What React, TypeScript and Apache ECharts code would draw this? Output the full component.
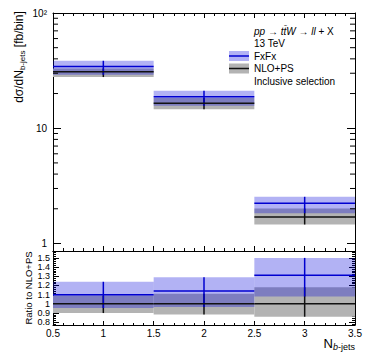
import React, { useEffect, useRef } from 'react';
import * as echarts from 'echarts';

// ---- data ----
const binEdges = [0.5, 1.5, 2.5, 3.5];
const binCenters = [1, 2, 3];
const xTickLabels = ['0.5', '1', '1.5', '2', '2.5', '3', '3.5'];

const fxfxCentral = [34.3, 18.8, 2.23];
const fxfxUp = [38.5, 21.1, 2.54];
const fxfxDown = [29.1, 15.7, 1.83];
const nloCentral = [30.9, 16.5, 1.7];
const nloUp = [33.0, 18.3, 2.01];
const nloDown = [27.8, 14.6, 1.46];

const ratioFxfx = [1.1, 1.14, 1.31];
const ratioFxfxUp = [1.24, 1.29, 1.5];
const ratioFxfxDown = [0.955, 0.965, 1.08];
const ratioNlo = [1.0, 1.0, 1.0];
const ratioNloUp = [1.09, 1.11, 1.18];
const ratioNloDown = [0.9, 0.885, 0.86];

const yTickLabels = ['1', '10', '10²'];
const logMinorTicks = [2, 3, 4, 5, 6, 7, 8, 9, 20, 30, 40, 50, 60, 70, 80, 90];

const FONT = '"Liberation Sans", Arial, Helvetica, sans-serif';
const BLUE = '#0000d0';
const BLACK = '#111111';
const BLUE_FILL = 'rgba(0,0,220,0.3)';
const GRAY_FILL = '#b3b3b3';

const L = 53, R = 355, T0 = 13, B0 = 251, B1 = 325;

function bandSeries(xi: number, yi: number, lows: number[], highs: number[], fill: string, z: number) {
  return {
    type: 'custom', xAxisIndex: xi, yAxisIndex: yi, z,
    data: lows.map((lo, i) => [binEdges[i], binEdges[i + 1], lo, highs[i]]),
    encode: { x: [0, 1], y: [2, 3] },
    renderItem: (params: any, api: any) => {
      const p0 = api.coord([api.value(0), api.value(3)]);
      const p1 = api.coord([api.value(1), api.value(2)]);
      return { type: 'rect', shape: { x: p0[0], y: p0[1], width: p1[0] - p0[0], height: p1[1] - p0[1] }, style: { fill } };
    },
  };
}

function hLineSeries(xi: number, yi: number, vals: number[], stroke: string, z: number) {
  return {
    type: 'custom', xAxisIndex: xi, yAxisIndex: yi, z,
    data: vals.map((v, i) => [binEdges[i], binEdges[i + 1], v]),
    encode: { x: [0, 1], y: 2 },
    renderItem: (params: any, api: any) => {
      const p0 = api.coord([api.value(0), api.value(2)]);
      const p1 = api.coord([api.value(1), api.value(2)]);
      return { type: 'line', shape: { x1: p0[0], y1: p0[1], x2: p1[0], y2: p1[1] }, style: { stroke, lineWidth: 1.5 } };
    },
  };
}

function vLineSeries(xi: number, yi: number, lows: number[], highs: number[], stroke: string, z: number) {
  return {
    type: 'custom', xAxisIndex: xi, yAxisIndex: yi, z,
    data: lows.map((lo, i) => [binCenters[i], lo, highs[i]]),
    encode: { x: 0, y: [1, 2] },
    renderItem: (params: any, api: any) => {
      const p0 = api.coord([api.value(0), api.value(1)]);
      const p1 = api.coord([api.value(0), api.value(2)]);
      return { type: 'line', shape: { x1: p0[0], y1: p0[1], x2: p1[0], y2: p1[1] }, style: { stroke, lineWidth: 1.5 } };
    },
  };
}

const axisLine = { show: true, onZero: false, lineStyle: { color: '#000', width: 1 } };

export default function App() {
  const ref = useRef<HTMLDivElement>(null);
  useEffect(() => {
    if (!ref.current) return;
    const chart = echarts.init(ref.current, null, { renderer: 'svg' });
    const xCommon = {
      type: 'value', min: 0.5, max: 3.5, interval: 0.5,
      axisLine, splitLine: { show: false },
      axisTick: { show: true, inside: true, length: 5, lineStyle: { color: '#000' } },
      minorTick: { show: true, inside: true, splitNumber: 5, length: 3, lineStyle: { color: '#000' } },
      axisLabel: { show: false },
    };
    const option: any = {
      animation: false,
      grid: [
        { left: L, width: R - L, top: T0, height: B0 - T0, outerBoundsMode: 'none' },
        { left: L, width: R - L, top: B0, height: B1 - B0, outerBoundsMode: 'none' },
      ],
      xAxis: [
        { ...xCommon, gridIndex: 0, position: 'bottom' },
        { ...xCommon, gridIndex: 0, position: 'top' },
        {
          ...xCommon, gridIndex: 1, position: 'bottom',
          axisTick: { show: true, inside: true, length: 4, lineStyle: { color: '#000' } },
          minorTick: { show: true, inside: true, splitNumber: 5, length: 2, lineStyle: { color: '#000' } },
          axisLabel: {
            show: true, margin: 3, fontSize: 10, fontFamily: FONT, color: '#000',
            formatter: (v: number) => xTickLabels[Math.round((v - 0.5) * 2)] ?? '',
          },
        },
        { ...xCommon, gridIndex: 1, position: 'top', axisTick: { show: false }, minorTick: { show: false } },
      ],
      yAxis: [
        {
          gridIndex: 0, type: 'log', logBase: 10, min: 0.86, max: 100, position: 'left',
          axisLine, splitLine: { show: false },
          axisTick: { show: true, inside: true, length: 8, lineStyle: { color: '#000' } },
          axisLabel: {
            show: true, margin: 6, fontSize: 10, fontFamily: FONT, color: '#000', showMinLabel: true, showMaxLabel: true,
            formatter: (v: number) => {
              const lg = Math.log10(v);
              if (Math.abs(lg - Math.round(lg)) > 1e-6) return '';
              return yTickLabels[Math.round(lg)] ?? '';
            },
          },
        },
        {
          gridIndex: 0, type: 'log', logBase: 10, min: 0.86, max: 100, position: 'right',
          axisLine, splitLine: { show: false },
          axisTick: { show: true, inside: true, length: 8, lineStyle: { color: '#000' } },
          axisLabel: { show: false },
        },
        {
          gridIndex: 1, type: 'value', min: 0.77, max: 1.575, splitNumber: 8, position: 'left',
          axisLine, splitLine: { show: false },
          axisTick: { show: true, inside: true, length: 6, lineStyle: { color: '#000' } },
          minorTick: { show: true, splitNumber: 5, length: 3, lineStyle: { color: '#000' } },
          axisLabel: {
            show: true, margin: 3, fontSize: 9, lineHeight: 9, fontFamily: FONT, color: '#000',
            showMinLabel: true, showMaxLabel: true, hideOverlap: false,
            formatter: (v: number) => {
              const r = Math.round(v * 10) / 10;
              if (Math.abs(v - r) > 1e-6) return '';
              return String(r);
            },
          },
        },
        {
          gridIndex: 1, type: 'value', min: 0.77, max: 1.575, splitNumber: 8, position: 'right',
          axisLine, splitLine: { show: false },
          axisTick: { show: true, inside: true, length: 6, lineStyle: { color: '#000' } },
          minorTick: { show: true, splitNumber: 5, length: 3, lineStyle: { color: '#000' } },
          axisLabel: { show: false },
        },
      ],
      series: [
        // top panel
        bandSeries(0, 0, nloDown, nloUp, GRAY_FILL, 1),
        bandSeries(0, 0, fxfxDown, fxfxUp, BLUE_FILL, 2),
        vLineSeries(0, 0, nloDown, nloUp, BLACK, 3),
        vLineSeries(0, 0, fxfxDown, fxfxUp, BLUE, 4),
        hLineSeries(0, 0, nloCentral, BLACK, 5),
        hLineSeries(0, 0, fxfxCentral, BLUE, 6),
        {
          type: 'custom', xAxisIndex: 0, yAxisIndex: 0, z: 7,
          data: logMinorTicks.map((v) => [0.5, v]),
          encode: { x: 0, y: 1 },
          renderItem: (params: any, api: any) => {
            const pl = api.coord([0.5, api.value(1)]);
            const pr = api.coord([3.5, api.value(1)]);
            return {
              type: 'group', children: [
                { type: 'line', shape: { x1: pl[0], y1: pl[1], x2: pl[0] + 5, y2: pl[1] }, style: { stroke: '#000', lineWidth: 1 } },
                { type: 'line', shape: { x1: pr[0] - 5, y1: pr[1], x2: pr[0], y2: pr[1] }, style: { stroke: '#000', lineWidth: 1 } },
              ],
            };
          },
        },
        // ratio panel
        bandSeries(2, 2, ratioNloDown, ratioNloUp, GRAY_FILL, 1),
        bandSeries(2, 2, ratioFxfxDown, ratioFxfxUp, BLUE_FILL, 2),
        vLineSeries(2, 2, ratioNloDown, ratioNloUp, BLACK, 3),
        vLineSeries(2, 2, ratioFxfxDown, ratioFxfxUp, BLUE, 4),
        hLineSeries(2, 2, ratioNlo, BLACK, 5),
        hLineSeries(2, 2, ratioFxfx, BLUE, 6),
      ],
      graphic: [
        {
          type: 'text', x: 19, y: 57, rotation: Math.PI / 2,
          style: {
            text: '{m|dσ/dN}{s|b-jets}{m| [fb/bin]}', align: 'center', verticalAlign: 'middle',
            rich: {
              m: { fontSize: 12, fontFamily: FONT, fill: '#000', lineHeight: 14, verticalAlign: 'middle' },
              s: { fontSize: 8, fontFamily: FONT, fill: '#000', lineHeight: 14, verticalAlign: 'bottom', padding: [5, 0, 0, 0] },
            },
          },
        },
        {
          type: 'text', x: 28, y: 288, rotation: Math.PI / 2,
          style: { text: 'Ratio to NLO+PS', align: 'center', verticalAlign: 'middle', fontSize: 9.5, fontFamily: FONT, fill: '#000' },
        },
        {
          type: 'text', x: 355, y: 343,
          style: {
            text: '{m|N}{si|b}{s|-jets}', align: 'right', verticalAlign: 'middle',
            rich: {
              m: { fontSize: 13, fontFamily: FONT, fill: '#000', lineHeight: 16 },
              si: { fontSize: 9, fontFamily: FONT, fontStyle: 'italic', fill: '#000', lineHeight: 16, verticalAlign: 'bottom', padding: [5, 0, 0, 0] },
              s: { fontSize: 9, fontFamily: FONT, fill: '#000', lineHeight: 16, verticalAlign: 'bottom', padding: [5, 0, 0, 0] },
            },
          },
        },
        {
          type: 'text', x: 254, y: 31,
          style: {
            text: '{i|pp} → {i|tt\u0304W} → {i|ll} + X', verticalAlign: 'middle',
            fontSize: 10, fontFamily: FONT, fill: '#000',
            rich: { i: { fontSize: 10, fontFamily: FONT, fontStyle: 'italic', fill: '#000' } },
          },
        },
        { type: 'text', x: 254, y: 43, style: { text: '13 TeV', verticalAlign: 'middle', fontSize: 10, fontFamily: FONT, fill: '#000' } },
        { type: 'rect', shape: { x: 229, y: 51, width: 20, height: 10 }, style: { fill: BLUE_FILL } },
        { type: 'line', shape: { x1: 229, y1: 56, x2: 249, y2: 56 }, style: { stroke: BLUE, lineWidth: 1.5 } },
        { type: 'text', x: 254, y: 56, style: { text: 'FxFx', verticalAlign: 'middle', fontSize: 10, fontFamily: FONT, fill: '#000' } },
        { type: 'rect', shape: { x: 229, y: 63.5, width: 20, height: 10 }, style: { fill: GRAY_FILL } },
        { type: 'line', shape: { x1: 229, y1: 68.5, x2: 249, y2: 68.5 }, style: { stroke: BLACK, lineWidth: 1.5 } },
        { type: 'text', x: 254, y: 68.5, style: { text: 'NLO+PS', verticalAlign: 'middle', fontSize: 10, fontFamily: FONT, fill: '#000' } },
        { type: 'text', x: 254, y: 81, style: { text: 'Inclusive selection', verticalAlign: 'middle', fontSize: 10, fontFamily: FONT, fill: '#000' } },
      ],
    };
    chart.setOption(option);
    return () => chart.dispose();
  }, []);
  return <div ref={ref} style={{ position: 'fixed', left: 0, top: 0, width: 374, height: 359, background: '#fff' }} />;
}
